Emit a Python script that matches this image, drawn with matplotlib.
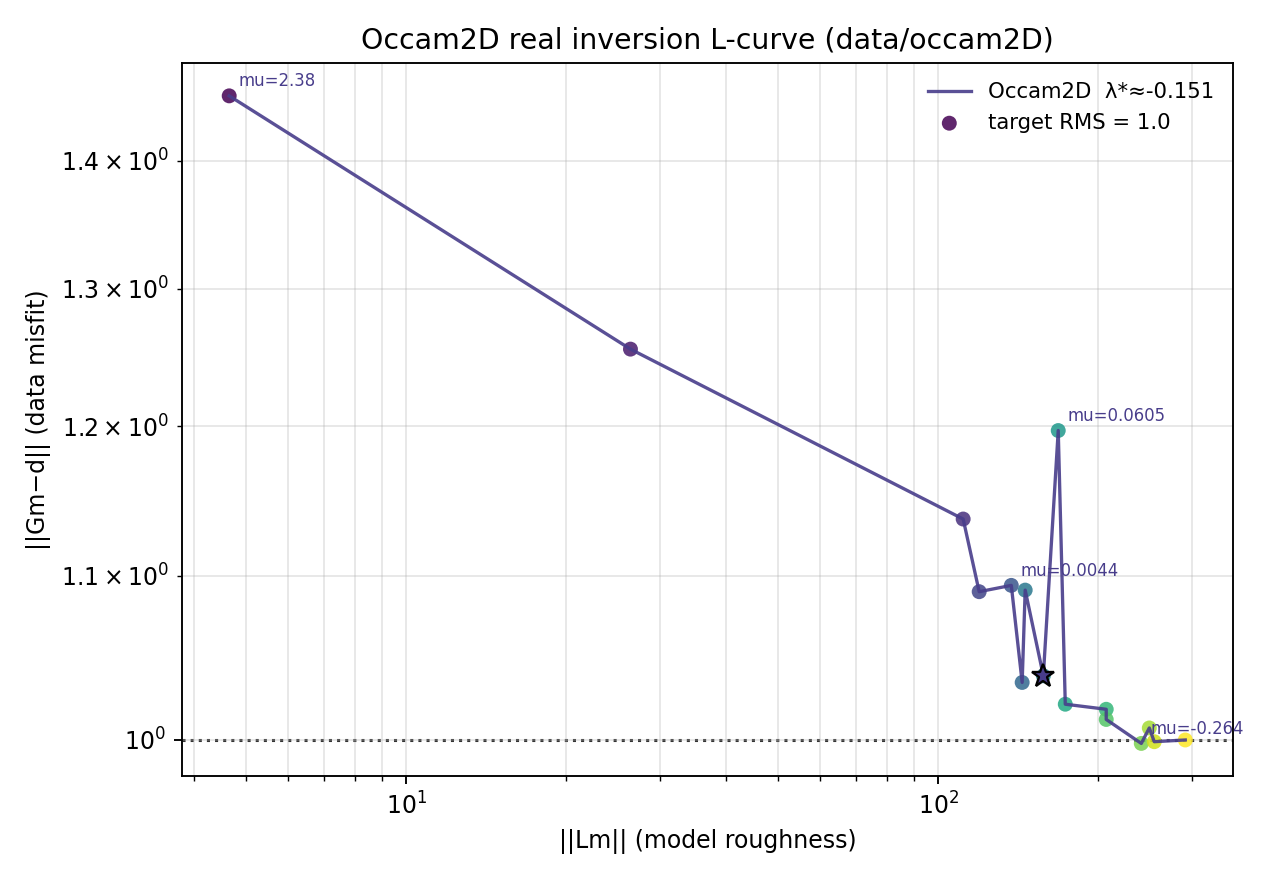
import numpy as np
import matplotlib
matplotlib.use("Agg")
import matplotlib.pyplot as plt

# ---------------- dane ----------------
roughness = [4.65, 26.4, 111.4, 119.4, 137.2, 143.8, 145.7, 157.6,
             168.1, 173.3, 206.9, 206.9, 240.8, 249.3, 254.7, 291.3]
misfit = [1.454, 1.255, 1.137, 1.090, 1.094, 1.034, 1.091, 1.038,
          1.197, 1.021, 1.018, 1.012, 0.998, 1.007, 0.999, 1.000]
ann_idx = [0, 4, 8, 12]
ann_txt = ["mu=2.38", "mu=0.0044", "mu=0.0605", "mu=-0.264"]
best_idx = 7
lam_best = -0.151
target_rms = 1.0

line_col = "#483d8b"

fig = plt.figure(figsize=(7.5, 5.2), dpi=170)
ax = fig.add_axes([0.1427, 0.1222, 0.8243, 0.8065])

ax.scatter(roughness, misfit, c=np.arange(len(roughness)), cmap="viridis",
           s=40, alpha=0.85, linewidths=0, zorder=2,
           label=f"target RMS = {target_rms}")
ax.plot(roughness, misfit, "-", color=line_col, lw=1.4, alpha=0.9, zorder=3,
        label=f"Occam2D  \u03bb*\u2248{lam_best}")
ax.plot(roughness[best_idx], misfit[best_idx], "*", ms=10, mfc=line_col,
        mec="black", mew=1.0, zorder=4)
ax.axhline(target_rms, color="0.2", ls=":", lw=1.3, zorder=1)

for i, t in zip(ann_idx, ann_txt):
    ax.annotate(t, (roughness[i], misfit[i]), xytext=(4, 4),
                textcoords="offset points", fontsize=7, color=line_col)

ax.set_xscale("log")
ax.set_yscale("log")
ax.set_xlim(3.79, 358)
ax.set_ylim(0.9793, 1.482)
ax.grid(True, which="both", alpha=0.3)
ax.set_xlabel("||Lm|| (model roughness)")
ax.set_ylabel("||Gm\u2212d|| (data misfit)")
ax.set_title("Occam2D real inversion L-curve (data/occam2D)")

h, l = ax.get_legend_handles_labels()
ax.legend(h[::-1], l[::-1], loc="upper right", frameon=False, fontsize=9)

fig.savefig("out.png", dpi=170)
